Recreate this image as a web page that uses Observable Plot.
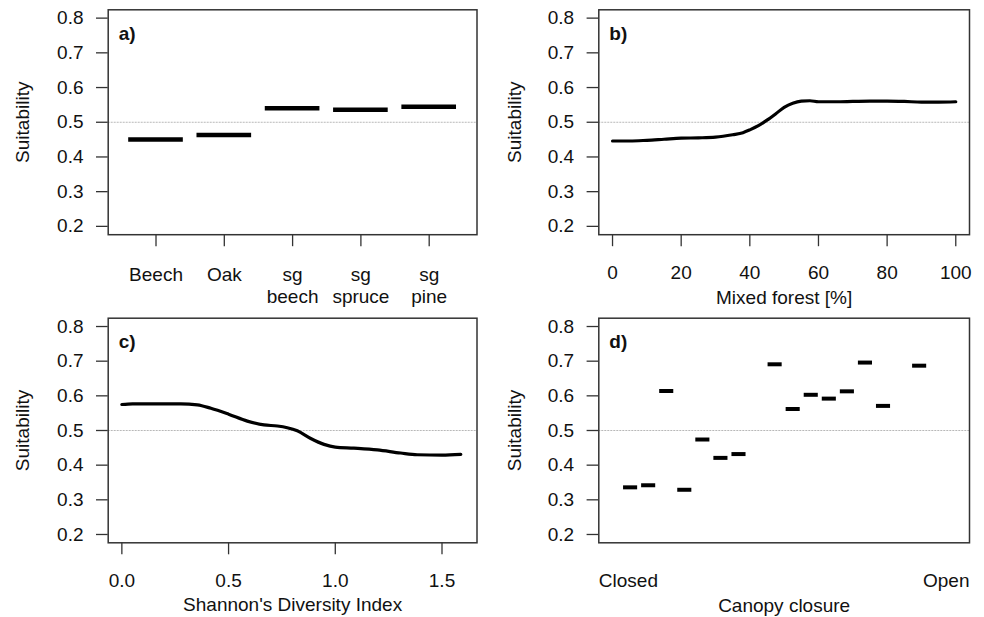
<!DOCTYPE html>
<html>
<head>
<meta charset="utf-8">
<script src="https://cdn.jsdelivr.net/npm/d3@7"></script>
<script src="https://cdn.jsdelivr.net/npm/@observablehq/plot@0.6"></script>
<style>
  html, body { margin: 0; padding: 0; background: #fff; }
  #wrap { position: relative; width: 984px; height: 617px; overflow: hidden; background: #fff; }
  .panel { position: absolute; }
</style>
</head>
<body>
<div id="wrap"></div>
<script>
// ---- Data ----
const yTicks = [0.2, 0.3, 0.4, 0.5, 0.6, 0.7, 0.8];
const refLine = [0.5];

// a) forest type
const aCategories = ["Beech", "Oak", "sg\nbeech", "sg\nspruce", "sg\npine"];
const aValues = [0.450, 0.463, 0.540, 0.536, 0.545];

// b) mixed forest [%]
const bX = [0, 5, 10, 15, 20, 25, 30, 35, 38, 40, 42.5, 45, 47.5, 50, 52.5, 55, 57.5, 60, 65, 70, 75, 80, 85, 90, 95, 100];
const bY = [0.446, 0.446, 0.448, 0.451, 0.454, 0.455, 0.457, 0.464, 0.470, 0.478, 0.490, 0.506, 0.524, 0.543, 0.555, 0.561, 0.562, 0.559, 0.559, 0.560, 0.561, 0.561, 0.560, 0.558, 0.558, 0.559];
const bTicks = [0, 20, 40, 60, 80, 100];

// c) Shannon's diversity index
const cX = [0, 0.05, 0.136, 0.276, 0.354, 0.417, 0.5, 0.588, 0.666, 0.729, 0.775, 0.822, 0.885, 0.947, 1.0, 1.087, 1.197, 1.306, 1.384, 1.5, 1.588];
const cY = [0.575, 0.577, 0.577, 0.577, 0.574, 0.564, 0.547, 0.527, 0.516, 0.513, 0.508, 0.499, 0.477, 0.460, 0.452, 0.449, 0.444, 0.435, 0.430, 0.429, 0.431];
const cTicks = [0, 0.5, 1.0, 1.5];

// d) canopy closure classes (1 = closed ... 17, null = no estimate)
const dValues = [0.336, 0.342, 0.614, 0.329, 0.474, 0.421, 0.432, null, 0.691, 0.562, 0.603, 0.592, 0.613, 0.696, 0.571, null, 0.687];
const dEnds = ["Closed", "Open"];

// ---- Layout ----
const FONT = "'Liberation Sans', Arial, sans-serif";
const FS = 19;
const yDomain = [0.176, 0.824];
const wrap = document.getElementById("wrap");

function place(svg, left, top) {
  const d = document.createElement("div");
  d.className = "panel";
  d.style.left = left + "px";
  d.style.top = top + "px";
  d.appendChild(svg);
  wrap.appendChild(d);
}

const under = () => [Plot.ruleY(refLine, {stroke: "#b8b8b8", strokeWidth: 1, strokeDasharray: "2,1"})];

function common(letter, ml) {
  return [
    Plot.axisY({ticks: yTicks, tickFormat: d3.format(".1f"), tickSize: 11.7, tickPadding: 13,
                label: null, stroke: "#333", strokeWidth: 1.3, fontSize: FS}),
    Plot.text(["Suitability"], {frameAnchor: "left", dx: -(ml - 15), rotate: -90,
                textAnchor: "middle", lineAnchor: "top", fontSize: FS, fill: "#111"}),
    Plot.text([letter], {frameAnchor: "top-left", dx: 10.5, dy: 16.5, textAnchor: "start",
                lineAnchor: "top", fontWeight: "bold", fontSize: FS, fill: "#111"}),
    Plot.frame({stroke: "#333", strokeWidth: 1.5})
  ];
}

function base(opts) {
  return Object.assign({
    width: 492,
    style: {fontFamily: FONT, fontSize: FS + "px", color: "#111", background: "#fff", overflow: "visible"},
    y: {domain: yDomain, axis: null},
  }, opts);
}

// Panel a
{
  const ml = 107.7, mt = 9.3, mb = 73.8, mr = 15.5;
  const data = aValues.map((v, i) => ({i: i + 1, v}));
  const svg = Plot.plot(base({
    height: 308, marginLeft: ml, marginRight: mr, marginTop: mt, marginBottom: mb,
    x: {domain: [0.3, 5.7], axis: null},
    marks: [
      ...under(),
      Plot.ruleY(data, {y: "v", x1: d => d.i - 0.4, x2: d => d.i + 0.4, stroke: "#000", strokeWidth: 4.5}),
      Plot.axisX({ticks: [1, 2, 3, 4, 5], tickFormat: i => aCategories[i - 1], tickSize: 12, tickPadding: 19,
                  label: null, stroke: "#333", strokeWidth: 1.3, fontSize: FS, lineHeight: 1.14}),
      ...common("a)", ml)
    ]
  }));
  place(svg, 0, 0);
}

// Panel b
{
  const ml = 106.3, mt = 9.3, mb = 73.8, mr = 15;
  const data = bX.map((x, k) => ({x, y: bY[k]}));
  const svg = Plot.plot(base({
    height: 308, marginLeft: ml, marginRight: mr, marginTop: mt, marginBottom: mb,
    x: {domain: [-4, 104], axis: null},
    marks: [
      ...under(),
      Plot.line(data, {x: "x", y: "y", stroke: "#000", strokeWidth: 3.2, curve: "monotone-x"}),
      Plot.axisX({ticks: bTicks, tickFormat: d3.format("d"), tickSize: 12, tickPadding: 19,
                  label: null, stroke: "#333", strokeWidth: 1.3, fontSize: FS}),
      Plot.text(["Mixed forest [%]"], {frameAnchor: "bottom", dy: 56, lineAnchor: "top", fontSize: FS, fill: "#111"}),
      ...common("b)", ml)
    ]
  }));
  place(svg, 492, 0);
}

// Panel c
{
  const ml = 107.7, mt = 9.7, mb = 74.7, mr = 15.5;
  const data = cX.map((x, k) => ({x, y: cY[k]}));
  const svg = Plot.plot(base({
    height: 309, marginLeft: ml, marginRight: mr, marginTop: mt, marginBottom: mb,
    x: {domain: [-0.064, 1.664], axis: null},
    marks: [
      ...under(),
      Plot.line(data, {x: "x", y: "y", stroke: "#000", strokeWidth: 3.2, curve: "monotone-x"}),
      Plot.axisX({ticks: cTicks, tickFormat: d3.format(".1f"), tickSize: 12, tickPadding: 19,
                  label: null, stroke: "#333", strokeWidth: 1.3, fontSize: FS}),
      Plot.text(["Shannon's Diversity Index"], {frameAnchor: "bottom", dy: 55, lineAnchor: "top", fontSize: FS, fill: "#111"}),
      ...common("c)", ml)
    ]
  }));
  place(svg, 0, 308);
}

// Panel d
{
  const ml = 106.3, mt = 9.7, mb = 74.7, mr = 15;
  const data = dValues.map((v, i) => ({i: i + 1, v})).filter(d => d.v != null);
  const svg = Plot.plot(base({
    height: 309, marginLeft: ml, marginRight: mr, marginTop: mt, marginBottom: mb,
    x: {domain: [-0.76, 19.76], axis: null},
    marks: [
      ...under(),
      Plot.ruleY(data, {y: "v", x1: d => d.i - 0.39, x2: d => d.i + 0.39, stroke: "#000", strokeWidth: 4}),
      Plot.text([dEnds[0]], {frameAnchor: "bottom-left", dx: 0, dy: 30.7, textAnchor: "start", lineAnchor: "top", fontSize: FS, fill: "#111"}),
      Plot.text([dEnds[1]], {frameAnchor: "bottom-right", dx: 0, dy: 30.7, textAnchor: "end", lineAnchor: "top", fontSize: FS, fill: "#111"}),
      Plot.text(["Canopy closure"], {frameAnchor: "bottom", dy: 56, lineAnchor: "top", fontSize: FS, fill: "#111"}),
      ...common("d)", ml)
    ]
  }));
  place(svg, 492, 308);
}
</script>
</body>
</html>
